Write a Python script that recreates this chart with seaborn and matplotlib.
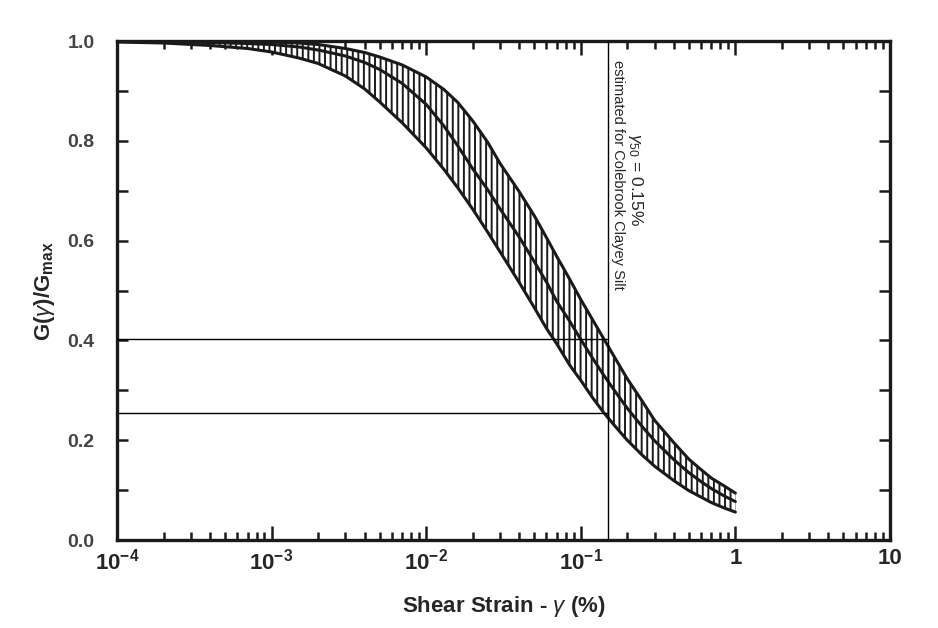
import numpy as np
import pandas as pd
import matplotlib
matplotlib.use('Agg')
import matplotlib.pyplot as plt
import seaborn as sns
from matplotlib.ticker import LogLocator, MultipleLocator, NullFormatter, FixedLocator, FixedFormatter

# shear strain (%) at which the three curves were read
strain = [1e-4, 2e-4, 4e-4, 7e-4, 1e-3, 1.5e-3, 2e-3, 3e-3, 4e-3, 5e-3, 7e-3,
          1e-2, 1.3e-2, 1.6e-2, 2e-2, 2.5e-2, 3e-2, 4e-2, 5e-2, 6e-2, 7e-2, 8.5e-2,
          0.1, 0.12, 0.141, 0.17, 0.2, 0.25, 0.3, 0.4, 0.5, 0.6, 0.7, 0.85, 1.0]

# G/Gmax, upper bound / mean / lower bound
upper = [1.000, 1.000, 0.999, 0.999, 0.998, 0.996, 0.993, 0.985, 0.977, 0.968, 0.952,
         0.928, 0.903, 0.877, 0.840, 0.797, 0.755, 0.698, 0.650, 0.606, 0.568, 0.522,
         0.482, 0.440, 0.403, 0.360, 0.323, 0.278, 0.240, 0.195, 0.162, 0.141, 0.124, 0.108, 0.094]
middle = [1.000, 0.999, 0.997, 0.995, 0.993, 0.988, 0.982, 0.970, 0.957, 0.943, 0.915,
          0.873, 0.830, 0.790, 0.744, 0.702, 0.664, 0.607, 0.558, 0.517, 0.478, 0.438,
          0.402, 0.363, 0.330, 0.294, 0.264, 0.227, 0.199, 0.161, 0.135, 0.117, 0.103, 0.088, 0.077]
lower = [0.998, 0.996, 0.991, 0.985, 0.978, 0.966, 0.955, 0.930, 0.904, 0.878, 0.836,
         0.786, 0.743, 0.706, 0.663, 0.617, 0.578, 0.516, 0.466, 0.424, 0.393, 0.350,
         0.320, 0.284, 0.255, 0.225, 0.200, 0.170, 0.148, 0.119, 0.099, 0.086, 0.075, 0.064, 0.056]

gamma_50 = 0.15
ratio_marks = [0.403, 0.255]

x_ticks = [1e-4, 1e-3, 1e-2, 1e-1, 1, 10]
x_tick_labels = [r'$\mathbf{10^{-4}}$', r'$\mathbf{10^{-3}}$', r'$\mathbf{10^{-2}}$',
                 r'$\mathbf{10^{-1}}$', '1', '10']

sns.set_style('ticks')
plt.rcParams['font.family'] = ['Liberation Sans', 'DejaVu Sans']
plt.rcParams['mathtext.fontset'] = 'custom'
plt.rcParams['mathtext.rm'] = 'Liberation Sans'
plt.rcParams['mathtext.it'] = 'Liberation Sans:italic'
plt.rcParams['mathtext.bf'] = 'Liberation Sans:bold'
plt.rcParams['hatch.color'] = '#1a1a1a'
plt.rcParams['hatch.linewidth'] = 1.4

df = pd.DataFrame({
    'strain': strain * 3,
    'ratio': upper + middle + lower,
    'curve': ['upper'] * len(strain) + ['middle'] * len(strain) + ['lower'] * len(strain),
})

fig = plt.figure(figsize=(9.38, 6.28), dpi=100)
ax = fig.add_axes([0.1247, 0.1401, 0.8241, 0.7946])

# hatched band between bounds
ax.fill_between(strain, lower, upper, facecolor='white', edgecolor='#1a1a1a',
                hatch='|||', linewidth=0, zorder=1)

sns.lineplot(data=df, x='strain', y='ratio', hue='curve', units='curve', estimator=None,
             palette={'upper': '#1a1a1a', 'middle': '#1a1a1a', 'lower': '#1a1a1a'},
             linewidth=2.2, legend=False, ax=ax, zorder=3)

ax.set_xscale('log')
ax.set_xlim(1e-4, 10)
ax.set_ylim(0, 1)

# reference lines for gamma_50
ax.axvline(gamma_50, color='black', linewidth=1.0, zorder=4)
for r in ratio_marks:
    ax.plot([1e-4, gamma_50], [r, r], color='black', linewidth=1.0, zorder=4)

ax.annotate('estimated for Colebrook Clayey Silt', xy=(gamma_50, 0.962), xytext=(2, 0),
            textcoords='offset points', rotation=-90, ha='left', va='top', fontsize=10.5)
ax.annotate(r'$\gamma_{50}$ = 0.15%', xy=(gamma_50, 0.815), xytext=(13, 0),
            textcoords='offset points', rotation=-90, ha='left', va='top', fontsize=12.5)

ax.xaxis.set_major_locator(FixedLocator(x_ticks))
ax.xaxis.set_major_formatter(FixedFormatter(x_tick_labels))
ax.xaxis.set_minor_locator(LogLocator(base=10, subs=np.arange(2, 10), numticks=20))
ax.xaxis.set_minor_formatter(NullFormatter())
ax.yaxis.set_major_locator(MultipleLocator(0.2))
ax.yaxis.set_minor_locator(MultipleLocator(0.1))
ax.yaxis.set_major_formatter(plt.FormatStrFormatter('%.1f'))

ax.tick_params(which='both', direction='in', top=True, right=True, width=1.8, color='#1a1a1a')
ax.tick_params(axis='x', which='major', length=10, pad=6, labelsize=16)
ax.tick_params(axis='x', which='minor', length=6)
ax.tick_params(axis='y', which='both', length=8)
ax.tick_params(axis='y', which='major', pad=16, labelsize=14, labelcolor='#444444')
for lab in ax.get_xticklabels() + ax.get_yticklabels():
    lab.set_fontweight('bold')

for sp in ax.spines.values():
    sp.set_linewidth(2.4)
    sp.set_color('#1a1a1a')

ax.set_xlabel(r'Shear Strain - $\gamma$ (%)', fontsize=16, fontweight='bold', labelpad=14)
ax.set_ylabel(r'G($\gamma$)/G$_{\mathbf{max}}$', fontsize=16, fontweight='bold', labelpad=8)

fig.savefig('out.png', dpi=100)
